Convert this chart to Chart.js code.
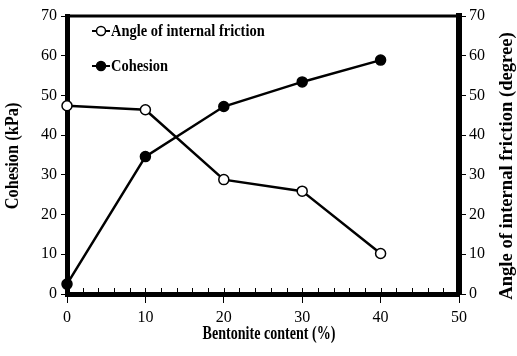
<!DOCTYPE html>
<html>
<head>
<meta charset="utf-8">
<script src="https://cdn.jsdelivr.net/npm/chart.js@4"></script>
<style>
  html, body { margin: 0; padding: 0; background: #fff; }
  #wrap { width: 517px; height: 356px; }
</style>
</head>
<body>
<div id="wrap"><canvas id="chart" width="517" height="356"></canvas></div>
<script>
// bentonite content (%) and measured strength parameters
const bentonite = [0, 10, 20, 30, 40];
const cohesion = [2.5, 34.6, 47.2, 53.4, 58.9];     // kPa
const friction = [47.4, 46.4, 28.8, 25.9, 10.2];    // degree
const xRange = [0, 50];
const yRange = [0, 70];

const SERIF = '"Liberation Serif", "Times New Roman", serif';

// text squeezed horizontally, like the narrow bold face used for titles
function drawText(ctx, text, x, y, size, sx, rot) {
    ctx.save();
    ctx.translate(x, y);
    if (rot) ctx.rotate(rot);
    ctx.scale(sx, 1);
    ctx.font = 'bold ' + size + 'px ' + SERIF;
    ctx.fillStyle = '#000';
    ctx.textAlign = 'center';
    ctx.textBaseline = 'middle';
    ctx.fillText(text, 0, 0);
    ctx.restore();
}

const framePlugin = {
    id: 'frame',
    beforeDatasetsDraw(chart) {
        const { ctx, chartArea: a, scales } = chart;
        ctx.save();
        ctx.strokeStyle = '#000';
        // thin top edge
        ctx.lineWidth = 3;
        ctx.beginPath();
        ctx.moveTo(a.left, a.top);
        ctx.lineTo(a.right, a.top);
        ctx.stroke();
        // inner minor ticks along the bottom axis
        ctx.lineWidth = 1;
        for (let v = 2; v < xRange[1]; v += 2) {
            const px = Math.round(scales.x.getPixelForValue(v)) + 0.5;
            ctx.beginPath();
            ctx.moveTo(px, a.bottom - 2);
            ctx.lineTo(px, a.bottom - 6);
            ctx.stroke();
        }
        ctx.restore();
    },
    afterDraw(chart) {
        const { ctx } = chart;
        // axis titles
        drawText(ctx, 'Cohesion (kPa)', 13, 156, 19, 0.86, -Math.PI / 2);
        drawText(ctx, 'Angle of internal friction (degree)', 507, 166, 19, 0.98, -Math.PI / 2);
        drawText(ctx, 'Bentonite content (%)', 269, 334, 19, 0.74, 0);

        // legend inside the plot
        const rows = [
            { label: 'Angle of internal friction', ds: chart.data.datasets[0], y: 31 },
            { label: 'Cohesion', ds: chart.data.datasets[1], y: 66 }
        ];
        rows.forEach(r => {
            ctx.save();
            ctx.strokeStyle = '#000';
            ctx.lineWidth = 2;
            ctx.beginPath();
            ctx.moveTo(92, r.y);
            ctx.lineTo(110, r.y);
            ctx.stroke();
            ctx.beginPath();
            ctx.arc(101, r.y, 4.5, 0, Math.PI * 2);
            ctx.fillStyle = r.ds.pointBackgroundColor;
            ctx.fill();
            ctx.lineWidth = 1.5;
            ctx.stroke();
            ctx.restore();
            ctx.save();
            ctx.font = 'bold 17px ' + SERIF;
            const w = ctx.measureText(r.label).width * 0.85;
            ctx.restore();
            drawText(ctx, r.label, 111 + w / 2, r.y + 1, 17, 0.85, 0);
        });
    }
};

const tickFont = { family: SERIF, size: 16 };

new Chart(document.getElementById('chart'), {
    type: 'line',
    data: {
        labels: bentonite,
        datasets: [
            {
                label: 'Angle of internal friction',
                data: bentonite.map((x, i) => ({ x, y: friction[i] })),
                yAxisID: 'y1',
                borderColor: '#000',
                borderWidth: 2.5,
                pointRadius: 5,
                pointHoverRadius: 5,
                pointBackgroundColor: '#fff',
                pointBorderColor: '#000',
                pointBorderWidth: 1.5,
                tension: 0,
                clip: false
            },
            {
                label: 'Cohesion',
                data: bentonite.map((x, i) => ({ x, y: cohesion[i] })),
                yAxisID: 'y',
                borderColor: '#000',
                borderWidth: 2.5,
                pointRadius: 5,
                pointHoverRadius: 5,
                pointBackgroundColor: '#000',
                pointBorderColor: '#000',
                pointBorderWidth: 1.5,
                tension: 0,
                clip: false
            }
        ]
    },
    options: {
        responsive: false,
        animation: false,
        events: [],
        layout: { padding: { top: 16, left: 0, right: 0, bottom: 0 } },
        plugins: { legend: { display: false }, tooltip: { enabled: false } },
        scales: {
            x: {
                type: 'linear',
                min: xRange[0],
                max: xRange[1],
                afterFit: s => { s.height = 62; },
                ticks: { stepSize: 10, color: '#000', font: tickFont, padding: 5, maxRotation: 0 },
                grid: { drawOnChartArea: false, color: '#000', tickLength: 9, lineWidth: 1 },
                border: { color: '#000', width: 5 }
            },
            y: {
                position: 'left',
                min: yRange[0],
                max: yRange[1],
                afterFit: s => { s.width = 67; },
                ticks: { stepSize: 10, color: '#000', font: tickFont, padding: 4 },
                grid: { drawOnChartArea: false, color: '#000', tickLength: 6, lineWidth: 1 },
                border: { color: '#000', width: 5 }
            },
            y1: {
                position: 'right',
                min: yRange[0],
                max: yRange[1],
                afterFit: s => { s.width = 58; },
                ticks: { stepSize: 10, color: '#000', font: tickFont, padding: 3 },
                grid: { drawOnChartArea: false, color: '#000', tickLength: 7, lineWidth: 1 },
                border: { color: '#000', width: 6 }
            }
        }
    },
    plugins: [framePlugin]
});
</script>
</body>
</html>
